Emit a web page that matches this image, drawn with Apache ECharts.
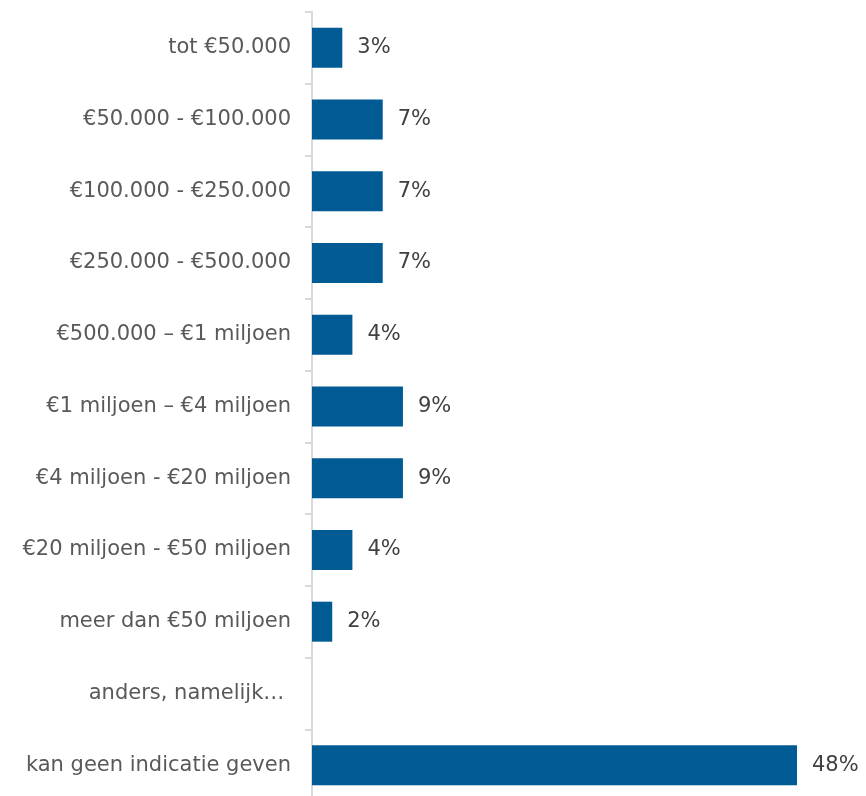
<!DOCTYPE html>
<html>
<head>
<meta charset="utf-8">
<script src="https://cdn.jsdelivr.net/npm/echarts@6/dist/echarts.min.js"></script>
<style>
  html, body { margin: 0; padding: 0; background: #fff; }
  #chart { width: 866px; height: 796px; }
</style>
</head>
<body>
<div id="chart"></div>
<script>
// categorieën van boven naar beneden
const categories = [
  'tot €50.000',
  '€50.000 - €100.000',
  '€100.000 - €250.000',
  '€250.000 - €500.000',
  '€500.000 – €1 miljoen',
  '€1 miljoen – €4 miljoen',
  '€4 miljoen - €20 miljoen',
  '€20 miljoen - €50 miljoen',
  'meer dan €50 miljoen',
  'anders, namelijk… ',
  'kan geen indicatie geven'
]
// percentages (null = geen balk)
const percentages = [3, 7, 7, 7, 4, 9, 9, 4, 2, null, 48]

const chart = echarts.init(document.getElementById('chart'))

chart.setOption({
  animation: false,
  textStyle: { fontFamily: 'DejaVu Sans' },
  grid: {
    left: 312,
    right: 69,
    top: 12,
    height: 789,
    containLabel: false,
    outerBoundsMode: 'none'
  },
  xAxis: {
    type: 'value',
    min: 0,
    max: 48,
    show: false
  },
  yAxis: {
    type: 'category',
    inverse: true,
    data: categories,
    axisLine: {
      show: true,
      lineStyle: { color: '#d9d9d9', width: 2 }
    },
    axisTick: {
      show: true,
      length: 7,
      lineStyle: { color: '#d9d9d9', width: 2 }
    },
    axisLabel: {
      margin: 21,
      color: '#595959',
      fontSize: 21,
      fontFamily: 'DejaVu Sans',
      padding: [3, 0, 0, 0]
    }
  },
  series: [{
    type: 'bar',
    data: percentages,
    barWidth: 40,
    itemStyle: { color: '#005a94' },
    label: {
      show: true,
      position: 'right',
      distance: 15,
      color: '#404040',
      fontSize: 21,
      fontFamily: 'DejaVu Sans',
      padding: [3, 0, 0, 0],
      formatter: p => (p.value == null ? '' : p.value + '%')
    }
  }]
})
</script>
</body>
</html>
